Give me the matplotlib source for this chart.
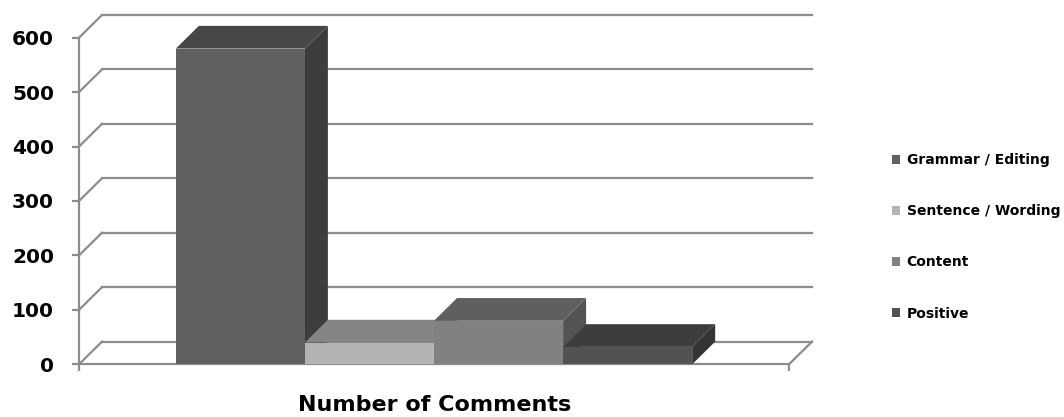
import matplotlib
matplotlib.use("Agg")
import matplotlib.pyplot as plt
from matplotlib.patches import Polygon, Patch
from matplotlib.colors import to_rgb

categories = ["Grammar / Editing", "Sentence / Wording", "Content", "Positive"]
counts = [580, 40, 80, 32]
colors = ["#606060", "#b4b4b4", "#818181", "#525252"]
yticks = [0, 100, 200, 300, 400, 500, 600]

# layout of the pseudo-3D box (data units)
bar_w = 1.0
first_bar = 0.75
floor_len = 5.5
depth_x = 0.178
depth_y = 41.7
grid_col = "#8c8c8c"


def shade(c, f):
    r, g, b = to_rgb(c)
    return (r * f, g * f, b * f)


plt.rcParams["font.family"] = "DejaVu Sans"
plt.rcParams["font.weight"] = "bold"

fig = plt.figure(figsize=(10.64, 4.17), dpi=100)
ax = fig.add_axes([79 / 1064, (417 - 364.3) / 417, 733 / 1064, 349.3 / 417])
ax.set_xlim(0, floor_len + depth_x)
ax.set_ylim(0, max(yticks) + depth_y)
ax.patch.set_alpha(0)

# back wall gridlines and left wall diagonals
for v in yticks:
    ax.plot([depth_x, floor_len + depth_x], [v + depth_y, v + depth_y],
            color=grid_col, lw=1.6, zorder=1, clip_on=False)
    ax.plot([0, depth_x], [v, v + depth_y], color=grid_col, lw=1.6,
            zorder=1, clip_on=False)
ax.plot([floor_len, floor_len + depth_x], [0, depth_y], color=grid_col,
        lw=1.6, zorder=1, clip_on=False)

# bars: front, top and right side faces
for i, (val, col) in enumerate(zip(counts, colors)):
    x0 = first_bar + i * bar_w
    x1 = x0 + bar_w
    z = 3 + i
    front = Polygon([(x0, 0), (x1, 0), (x1, val), (x0, val)],
                    closed=True, fc=col, ec="none", zorder=z)
    top = Polygon([(x0, val), (x1, val), (x1 + depth_x, val + depth_y),
                   (x0 + depth_x, val + depth_y)],
                  closed=True, fc=shade(col, 0.74), ec="none", zorder=z)
    side = Polygon([(x1, 0), (x1 + depth_x, depth_y),
                    (x1 + depth_x, val + depth_y), (x1, val)],
                   closed=True, fc=shade(col, 0.64), ec="none", zorder=z)
    for p in (side, top, front):
        ax.add_patch(p)

for s in ["top", "right"]:
    ax.spines[s].set_visible(False)
ax.spines["left"].set_bounds(0, max(yticks))
ax.spines["bottom"].set_bounds(0, floor_len)
for s in ["left", "bottom"]:
    ax.spines[s].set_color(grid_col)
    ax.spines[s].set_linewidth(1.6)
    ax.spines[s].set_zorder(2)

ax.set_yticks(yticks)
ax.set_xticks([0, floor_len])
ax.set_xticklabels([])
ax.tick_params(axis="both", direction="out", length=5, width=1.6,
               color=grid_col)
ax.tick_params(axis="y", labelsize=14.5, pad=13)
for t in ax.get_yticklabels():
    t.set_fontweight("bold")

fig.text(435 / 1064, 1 - 405 / 417, "Number of Comments", ha="center",
         va="center", fontsize=16, fontweight="bold")

handles = [Patch(fc=c, ec="none") for c in colors]
fig.legend(handles, categories, loc="upper left",
           bbox_to_anchor=(892 / 1064, 1 - 153 / 417), frameon=False,
           handlelength=0.6, handleheight=0.6,
           handletextpad=0.45, labelspacing=2.68, borderpad=0,
           borderaxespad=0, prop={"weight": "bold", "size": 10})

fig.savefig("out.png", dpi=100)
